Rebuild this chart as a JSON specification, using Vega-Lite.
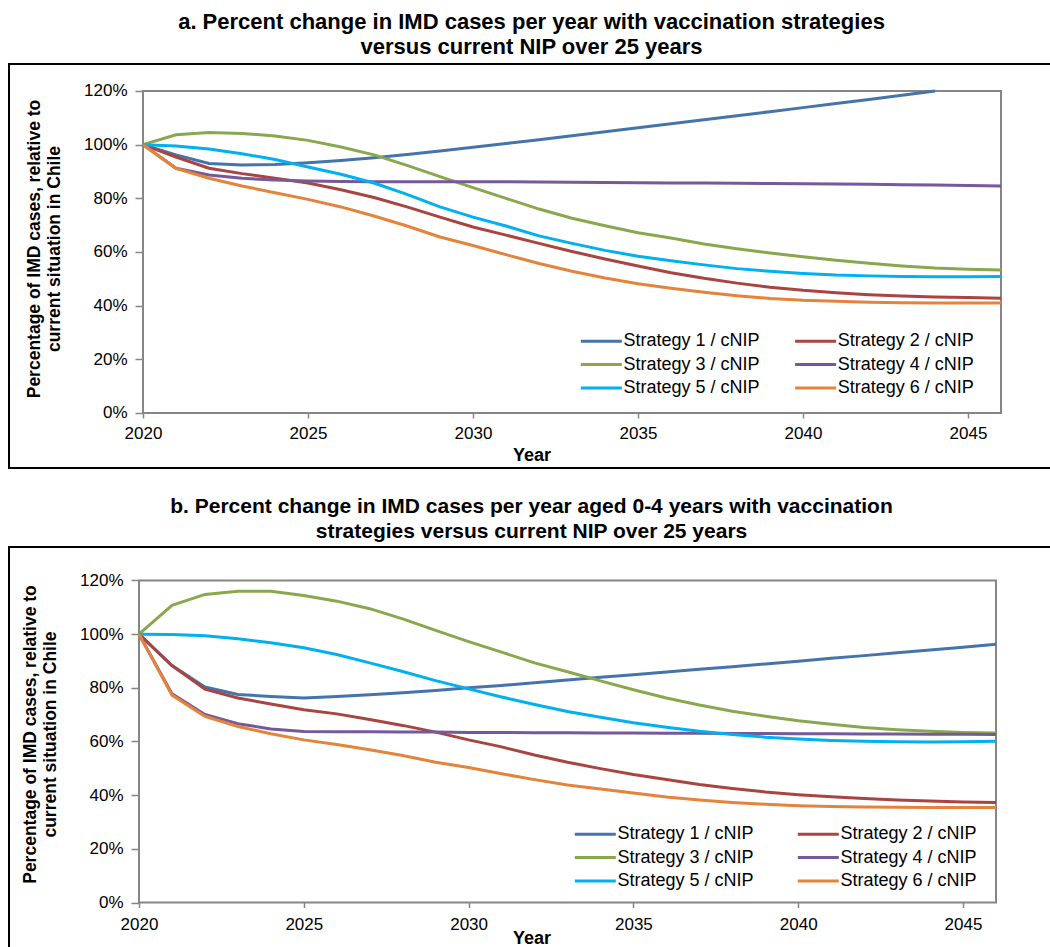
{
  "$schema": "https://vega.github.io/schema/vega-lite/v6.json",
  "padding": {"left": 8, "top": 10, "right": 0, "bottom": 0},
  "background": "white",
  "spacing": 26,
  "config": {
    "font": "Liberation Sans",
    "view": {"stroke": "black", "strokeWidth": 2},
    "axis": {
      "domain": false, "grid": false,
      "labelFont": "Liberation Sans", "labelFontSize": 17, "labelColor": "black",
      "tickColor": "#868686", "tickWidth": 1.5,
      "titleFont": "Liberation Sans", "titleFontWeight": "bold", "titleColor": "black"
    },
    "title": {"font": "Liberation Sans", "fontSize": 22, "fontWeight": "bold", "color": "black", "lineHeight": 25, "anchor": "middle", "offset": 5},
    "legend": {"orient": "none", "direction": "horizontal", "columns": 2, "title": null, "symbolType": "M-1,0H4", "symbolSize": 269, "symbolStrokeWidth": 3, "labelFont": "Liberation Sans", "labelFontSize": 18, "labelColor": "black", "labelOffset": 24.5, "rowPadding": 4.3, "columnPadding": 28, "padding": 0}
  },
  "resolve": {"scale": {"color": "independent"}, "legend": {"color": "independent"}},
  "datasets": {
    "a": [
      {"year": 2020, "Strategy 1 / cNIP": 1.000, "Strategy 2 / cNIP": 1.000, "Strategy 3 / cNIP": 1.000, "Strategy 4 / cNIP": 1.000, "Strategy 5 / cNIP": 1.000, "Strategy 6 / cNIP": 1.000},
      {"year": 2021, "Strategy 1 / cNIP": 0.962, "Strategy 2 / cNIP": 0.954, "Strategy 3 / cNIP": 1.037, "Strategy 4 / cNIP": 0.912, "Strategy 5 / cNIP": 0.995, "Strategy 6 / cNIP": 0.912},
      {"year": 2022, "Strategy 1 / cNIP": 0.930, "Strategy 2 / cNIP": 0.912, "Strategy 3 / cNIP": 1.045, "Strategy 4 / cNIP": 0.887, "Strategy 5 / cNIP": 0.984, "Strategy 6 / cNIP": 0.875},
      {"year": 2023, "Strategy 1 / cNIP": 0.924, "Strategy 2 / cNIP": 0.892, "Strategy 3 / cNIP": 1.042, "Strategy 4 / cNIP": 0.875, "Strategy 5 / cNIP": 0.966, "Strategy 6 / cNIP": 0.846},
      {"year": 2024, "Strategy 1 / cNIP": 0.926, "Strategy 2 / cNIP": 0.875, "Strategy 3 / cNIP": 1.032, "Strategy 4 / cNIP": 0.868, "Strategy 5 / cNIP": 0.945, "Strategy 6 / cNIP": 0.821},
      {"year": 2025, "Strategy 1 / cNIP": 0.933, "Strategy 2 / cNIP": 0.857, "Strategy 3 / cNIP": 1.016, "Strategy 4 / cNIP": 0.865, "Strategy 5 / cNIP": 0.917, "Strategy 6 / cNIP": 0.796},
      {"year": 2026, "Strategy 1 / cNIP": 0.941, "Strategy 2 / cNIP": 0.832, "Strategy 3 / cNIP": 0.991, "Strategy 4 / cNIP": 0.863, "Strategy 5 / cNIP": 0.890, "Strategy 6 / cNIP": 0.768},
      {"year": 2027, "Strategy 1 / cNIP": 0.951, "Strategy 2 / cNIP": 0.803, "Strategy 3 / cNIP": 0.962, "Strategy 4 / cNIP": 0.862, "Strategy 5 / cNIP": 0.857, "Strategy 6 / cNIP": 0.734},
      {"year": 2028, "Strategy 1 / cNIP": 0.963, "Strategy 2 / cNIP": 0.768, "Strategy 3 / cNIP": 0.923, "Strategy 4 / cNIP": 0.862, "Strategy 5 / cNIP": 0.815, "Strategy 6 / cNIP": 0.697},
      {"year": 2029, "Strategy 1 / cNIP": 0.976, "Strategy 2 / cNIP": 0.730, "Strategy 3 / cNIP": 0.881, "Strategy 4 / cNIP": 0.862, "Strategy 5 / cNIP": 0.768, "Strategy 6 / cNIP": 0.656},
      {"year": 2030, "Strategy 1 / cNIP": 0.990, "Strategy 2 / cNIP": 0.693, "Strategy 3 / cNIP": 0.840, "Strategy 4 / cNIP": 0.862, "Strategy 5 / cNIP": 0.730, "Strategy 6 / cNIP": 0.624},
      {"year": 2031, "Strategy 1 / cNIP": 1.004, "Strategy 2 / cNIP": 0.663, "Strategy 3 / cNIP": 0.800, "Strategy 4 / cNIP": 0.862, "Strategy 5 / cNIP": 0.697, "Strategy 6 / cNIP": 0.590},
      {"year": 2032, "Strategy 1 / cNIP": 1.018, "Strategy 2 / cNIP": 0.632, "Strategy 3 / cNIP": 0.760, "Strategy 4 / cNIP": 0.861, "Strategy 5 / cNIP": 0.660, "Strategy 6 / cNIP": 0.557},
      {"year": 2033, "Strategy 1 / cNIP": 1.033, "Strategy 2 / cNIP": 0.602, "Strategy 3 / cNIP": 0.726, "Strategy 4 / cNIP": 0.860, "Strategy 5 / cNIP": 0.632, "Strategy 6 / cNIP": 0.528},
      {"year": 2034, "Strategy 1 / cNIP": 1.048, "Strategy 2 / cNIP": 0.574, "Strategy 3 / cNIP": 0.698, "Strategy 4 / cNIP": 0.859, "Strategy 5 / cNIP": 0.606, "Strategy 6 / cNIP": 0.503},
      {"year": 2035, "Strategy 1 / cNIP": 1.063, "Strategy 2 / cNIP": 0.548, "Strategy 3 / cNIP": 0.672, "Strategy 4 / cNIP": 0.858, "Strategy 5 / cNIP": 0.584, "Strategy 6 / cNIP": 0.482},
      {"year": 2036, "Strategy 1 / cNIP": 1.078, "Strategy 2 / cNIP": 0.523, "Strategy 3 / cNIP": 0.652, "Strategy 4 / cNIP": 0.857, "Strategy 5 / cNIP": 0.567, "Strategy 6 / cNIP": 0.465},
      {"year": 2037, "Strategy 1 / cNIP": 1.093, "Strategy 2 / cNIP": 0.502, "Strategy 3 / cNIP": 0.630, "Strategy 4 / cNIP": 0.857, "Strategy 5 / cNIP": 0.552, "Strategy 6 / cNIP": 0.450},
      {"year": 2038, "Strategy 1 / cNIP": 1.108, "Strategy 2 / cNIP": 0.484, "Strategy 3 / cNIP": 0.612, "Strategy 4 / cNIP": 0.856, "Strategy 5 / cNIP": 0.538, "Strategy 6 / cNIP": 0.437},
      {"year": 2039, "Strategy 1 / cNIP": 1.123, "Strategy 2 / cNIP": 0.469, "Strategy 3 / cNIP": 0.596, "Strategy 4 / cNIP": 0.855, "Strategy 5 / cNIP": 0.528, "Strategy 6 / cNIP": 0.427},
      {"year": 2040, "Strategy 1 / cNIP": 1.138, "Strategy 2 / cNIP": 0.457, "Strategy 3 / cNIP": 0.582, "Strategy 4 / cNIP": 0.854, "Strategy 5 / cNIP": 0.520, "Strategy 6 / cNIP": 0.420},
      {"year": 2041, "Strategy 1 / cNIP": 1.153, "Strategy 2 / cNIP": 0.448, "Strategy 3 / cNIP": 0.569, "Strategy 4 / cNIP": 0.853, "Strategy 5 / cNIP": 0.514, "Strategy 6 / cNIP": 0.416},
      {"year": 2042, "Strategy 1 / cNIP": 1.168, "Strategy 2 / cNIP": 0.441, "Strategy 3 / cNIP": 0.558, "Strategy 4 / cNIP": 0.852, "Strategy 5 / cNIP": 0.511, "Strategy 6 / cNIP": 0.413},
      {"year": 2043, "Strategy 1 / cNIP": 1.184, "Strategy 2 / cNIP": 0.436, "Strategy 3 / cNIP": 0.548, "Strategy 4 / cNIP": 0.851, "Strategy 5 / cNIP": 0.509, "Strategy 6 / cNIP": 0.411},
      {"year": 2044, "Strategy 1 / cNIP": 1.200, "Strategy 2 / cNIP": 0.432, "Strategy 3 / cNIP": 0.540, "Strategy 4 / cNIP": 0.850, "Strategy 5 / cNIP": 0.508, "Strategy 6 / cNIP": 0.410},
      {"year": 2045, "Strategy 1 / cNIP": 1.216, "Strategy 2 / cNIP": 0.430, "Strategy 3 / cNIP": 0.536, "Strategy 4 / cNIP": 0.848, "Strategy 5 / cNIP": 0.508, "Strategy 6 / cNIP": 0.410},
      {"year": 2046, "Strategy 1 / cNIP": 1.232, "Strategy 2 / cNIP": 0.428, "Strategy 3 / cNIP": 0.533, "Strategy 4 / cNIP": 0.846, "Strategy 5 / cNIP": 0.509, "Strategy 6 / cNIP": 0.410}
    ],
    "b": [
      {"year": 2020, "Strategy 1 / cNIP": 1.000, "Strategy 2 / cNIP": 1.000, "Strategy 3 / cNIP": 1.000, "Strategy 4 / cNIP": 1.000, "Strategy 5 / cNIP": 1.000, "Strategy 6 / cNIP": 1.000},
      {"year": 2021, "Strategy 1 / cNIP": 0.883, "Strategy 2 / cNIP": 0.883, "Strategy 3 / cNIP": 1.107, "Strategy 4 / cNIP": 0.778, "Strategy 5 / cNIP": 0.999, "Strategy 6 / cNIP": 0.773},
      {"year": 2022, "Strategy 1 / cNIP": 0.803, "Strategy 2 / cNIP": 0.795, "Strategy 3 / cNIP": 1.148, "Strategy 4 / cNIP": 0.701, "Strategy 5 / cNIP": 0.994, "Strategy 6 / cNIP": 0.694},
      {"year": 2023, "Strategy 1 / cNIP": 0.775, "Strategy 2 / cNIP": 0.762, "Strategy 3 / cNIP": 1.160, "Strategy 4 / cNIP": 0.666, "Strategy 5 / cNIP": 0.983, "Strategy 6 / cNIP": 0.656},
      {"year": 2024, "Strategy 1 / cNIP": 0.768, "Strategy 2 / cNIP": 0.740, "Strategy 3 / cNIP": 1.160, "Strategy 4 / cNIP": 0.647, "Strategy 5 / cNIP": 0.968, "Strategy 6 / cNIP": 0.629},
      {"year": 2025, "Strategy 1 / cNIP": 0.762, "Strategy 2 / cNIP": 0.718, "Strategy 3 / cNIP": 1.144, "Strategy 4 / cNIP": 0.637, "Strategy 5 / cNIP": 0.949, "Strategy 6 / cNIP": 0.606},
      {"year": 2026, "Strategy 1 / cNIP": 0.768, "Strategy 2 / cNIP": 0.703, "Strategy 3 / cNIP": 1.123, "Strategy 4 / cNIP": 0.636, "Strategy 5 / cNIP": 0.924, "Strategy 6 / cNIP": 0.589},
      {"year": 2027, "Strategy 1 / cNIP": 0.774, "Strategy 2 / cNIP": 0.682, "Strategy 3 / cNIP": 1.095, "Strategy 4 / cNIP": 0.636, "Strategy 5 / cNIP": 0.893, "Strategy 6 / cNIP": 0.569},
      {"year": 2028, "Strategy 1 / cNIP": 0.782, "Strategy 2 / cNIP": 0.660, "Strategy 3 / cNIP": 1.057, "Strategy 4 / cNIP": 0.635, "Strategy 5 / cNIP": 0.861, "Strategy 6 / cNIP": 0.548},
      {"year": 2029, "Strategy 1 / cNIP": 0.790, "Strategy 2 / cNIP": 0.635, "Strategy 3 / cNIP": 1.014, "Strategy 4 / cNIP": 0.635, "Strategy 5 / cNIP": 0.827, "Strategy 6 / cNIP": 0.523},
      {"year": 2030, "Strategy 1 / cNIP": 0.800, "Strategy 2 / cNIP": 0.606, "Strategy 3 / cNIP": 0.972, "Strategy 4 / cNIP": 0.634, "Strategy 5 / cNIP": 0.796, "Strategy 6 / cNIP": 0.503},
      {"year": 2031, "Strategy 1 / cNIP": 0.809, "Strategy 2 / cNIP": 0.580, "Strategy 3 / cNIP": 0.933, "Strategy 4 / cNIP": 0.634, "Strategy 5 / cNIP": 0.766, "Strategy 6 / cNIP": 0.480},
      {"year": 2032, "Strategy 1 / cNIP": 0.819, "Strategy 2 / cNIP": 0.550, "Strategy 3 / cNIP": 0.893, "Strategy 4 / cNIP": 0.633, "Strategy 5 / cNIP": 0.738, "Strategy 6 / cNIP": 0.458},
      {"year": 2033, "Strategy 1 / cNIP": 0.829, "Strategy 2 / cNIP": 0.523, "Strategy 3 / cNIP": 0.860, "Strategy 4 / cNIP": 0.633, "Strategy 5 / cNIP": 0.712, "Strategy 6 / cNIP": 0.438},
      {"year": 2034, "Strategy 1 / cNIP": 0.839, "Strategy 2 / cNIP": 0.499, "Strategy 3 / cNIP": 0.826, "Strategy 4 / cNIP": 0.632, "Strategy 5 / cNIP": 0.690, "Strategy 6 / cNIP": 0.423},
      {"year": 2035, "Strategy 1 / cNIP": 0.849, "Strategy 2 / cNIP": 0.477, "Strategy 3 / cNIP": 0.793, "Strategy 4 / cNIP": 0.632, "Strategy 5 / cNIP": 0.670, "Strategy 6 / cNIP": 0.408},
      {"year": 2036, "Strategy 1 / cNIP": 0.859, "Strategy 2 / cNIP": 0.458, "Strategy 3 / cNIP": 0.762, "Strategy 4 / cNIP": 0.631, "Strategy 5 / cNIP": 0.653, "Strategy 6 / cNIP": 0.393},
      {"year": 2037, "Strategy 1 / cNIP": 0.869, "Strategy 2 / cNIP": 0.440, "Strategy 3 / cNIP": 0.736, "Strategy 4 / cNIP": 0.631, "Strategy 5 / cNIP": 0.638, "Strategy 6 / cNIP": 0.382},
      {"year": 2038, "Strategy 1 / cNIP": 0.879, "Strategy 2 / cNIP": 0.425, "Strategy 3 / cNIP": 0.713, "Strategy 4 / cNIP": 0.630, "Strategy 5 / cNIP": 0.626, "Strategy 6 / cNIP": 0.373},
      {"year": 2039, "Strategy 1 / cNIP": 0.889, "Strategy 2 / cNIP": 0.412, "Strategy 3 / cNIP": 0.694, "Strategy 4 / cNIP": 0.630, "Strategy 5 / cNIP": 0.616, "Strategy 6 / cNIP": 0.366},
      {"year": 2040, "Strategy 1 / cNIP": 0.899, "Strategy 2 / cNIP": 0.402, "Strategy 3 / cNIP": 0.677, "Strategy 4 / cNIP": 0.629, "Strategy 5 / cNIP": 0.609, "Strategy 6 / cNIP": 0.361},
      {"year": 2041, "Strategy 1 / cNIP": 0.910, "Strategy 2 / cNIP": 0.394, "Strategy 3 / cNIP": 0.664, "Strategy 4 / cNIP": 0.629, "Strategy 5 / cNIP": 0.604, "Strategy 6 / cNIP": 0.358},
      {"year": 2042, "Strategy 1 / cNIP": 0.920, "Strategy 2 / cNIP": 0.388, "Strategy 3 / cNIP": 0.652, "Strategy 4 / cNIP": 0.628, "Strategy 5 / cNIP": 0.601, "Strategy 6 / cNIP": 0.356},
      {"year": 2043, "Strategy 1 / cNIP": 0.931, "Strategy 2 / cNIP": 0.382, "Strategy 3 / cNIP": 0.644, "Strategy 4 / cNIP": 0.628, "Strategy 5 / cNIP": 0.599, "Strategy 6 / cNIP": 0.355},
      {"year": 2044, "Strategy 1 / cNIP": 0.941, "Strategy 2 / cNIP": 0.378, "Strategy 3 / cNIP": 0.638, "Strategy 4 / cNIP": 0.627, "Strategy 5 / cNIP": 0.598, "Strategy 6 / cNIP": 0.354},
      {"year": 2045, "Strategy 1 / cNIP": 0.951, "Strategy 2 / cNIP": 0.375, "Strategy 3 / cNIP": 0.634, "Strategy 4 / cNIP": 0.627, "Strategy 5 / cNIP": 0.599, "Strategy 6 / cNIP": 0.354},
      {"year": 2046, "Strategy 1 / cNIP": 0.962, "Strategy 2 / cNIP": 0.373, "Strategy 3 / cNIP": 0.632, "Strategy 4 / cNIP": 0.626, "Strategy 5 / cNIP": 0.601, "Strategy 6 / cNIP": 0.354}
    ]
  },
  "vconcat": [
    {
      "width": 1045,
      "height": 404,
      "title": {"text": ["a. Percent change in IMD cases per year with vaccination strategies", "versus current NIP over 25 years"]},
      "layer": [
        {
          "data": {"values": [{}]},
          "mark": {"type": "rect", "fill": null, "stroke": "#868686", "strokeWidth": 2},
          "encoding": {
            "x": {"datum": 2020, "type": "quantitative", "scale": {"domain": [2015.939, 2047.606], "nice": false, "zero": false},
                  "axis": {"values": [2020, 2025, 2030, 2035, 2040, 2045], "format": "d", "offset": -55, "tickSize": 5, "labelPadding": 7, "title": "Year", "titleFontSize": 18, "titlePadding": 5}},
            "x2": {"datum": 2046},
            "y": {"datum": 0, "type": "quantitative", "scale": {"domain": [-0.205, 1.3006], "nice": false, "zero": false},
                  "axis": {"values": [0, 0.2, 0.4, 0.6, 0.8, 1.0, 1.2], "format": ".0%", "offset": -134, "tickSize": 8, "labelPadding": 8, "title": ["Percentage of IMD cases, relative to", "current situation in Chile"], "titleFontSize": 17.5, "titleLineHeight": 20, "titlePadding": 20, "titleY": 184.5}},
            "y2": {"datum": 1.2}
          }
        },
        {
          "data": {"name": "a"},
          "transform": [
            {"fold": ["Strategy 1 / cNIP", "Strategy 2 / cNIP", "Strategy 3 / cNIP", "Strategy 4 / cNIP", "Strategy 5 / cNIP", "Strategy 6 / cNIP"], "as": ["strategy", "v"]},
            {"filter": "datum.v <= 1.2001"}
          ],
          "mark": {"type": "line", "strokeWidth": 3},
          "encoding": {
            "x": {"field": "year", "type": "quantitative"},
            "y": {"field": "v", "type": "quantitative"},
            "color": {"field": "strategy", "type": "nominal",
              "scale": {"domain": ["Strategy 1 / cNIP", "Strategy 2 / cNIP", "Strategy 3 / cNIP", "Strategy 4 / cNIP", "Strategy 5 / cNIP", "Strategy 6 / cNIP"], "range": ["#4573AB", "#AA4440", "#89A84D", "#75599A", "#00B0F0", "#E6833B"]},
              "legend": {"legendX": 570, "legendY": 267.3, "columnPadding": 28.3}}
          }
        }
      ]
    },
    {
      "width": 1045,
      "height": 404,
      "title": {"text": ["b. Percent change in IMD cases per year aged 0-4 years with vaccination", "strategies versus current NIP over 25 years"], "fontSize": 21},
      "layer": [
        {
          "data": {"values": [{}]},
          "mark": {"type": "rect", "fill": null, "stroke": "#868686", "strokeWidth": 2},
          "encoding": {
            "x": {"datum": 2020, "type": "quantitative", "scale": {"domain": [2016.056, 2047.76], "nice": false, "zero": false},
                  "axis": {"values": [2020, 2025, 2030, 2035, 2040, 2045], "format": "d", "offset": -48.5, "tickSize": 5, "labelPadding": 8.5, "title": "Year", "titleFontSize": 18, "titlePadding": -3}},
            "x2": {"datum": 2046},
            "y": {"datum": 0, "type": "quantitative", "scale": {"domain": [-0.1807, 1.3248], "nice": false, "zero": false},
                  "axis": {"values": [0, 0.2, 0.4, 0.6, 0.8, 1.0, 1.2], "format": ".0%", "offset": -130, "tickSize": 8, "labelPadding": 8, "title": ["Percentage of IMD cases, relative to", "current situation in Chile"], "titleFontSize": 17.5, "titleLineHeight": 20, "titlePadding": 20, "titleY": 187}},
            "y2": {"datum": 1.2}
          }
        },
        {
          "data": {"name": "b"},
          "transform": [
            {"fold": ["Strategy 1 / cNIP", "Strategy 2 / cNIP", "Strategy 3 / cNIP", "Strategy 4 / cNIP", "Strategy 5 / cNIP", "Strategy 6 / cNIP"], "as": ["strategy", "v"]},
            {"filter": "datum.v <= 1.2001"}
          ],
          "mark": {"type": "line", "strokeWidth": 3},
          "encoding": {
            "x": {"field": "year", "type": "quantitative"},
            "y": {"field": "v", "type": "quantitative"},
            "color": {"field": "strategy", "type": "nominal",
              "scale": {"domain": ["Strategy 1 / cNIP", "Strategy 2 / cNIP", "Strategy 3 / cNIP", "Strategy 4 / cNIP", "Strategy 5 / cNIP", "Strategy 6 / cNIP"], "range": ["#4573AB", "#AA4440", "#89A84D", "#75599A", "#00B0F0", "#E6833B"]},
              "legend": {"legendX": 564, "legendY": 277.3, "columnPadding": 37}}
          }
        }
      ]
    }
  ]
}
